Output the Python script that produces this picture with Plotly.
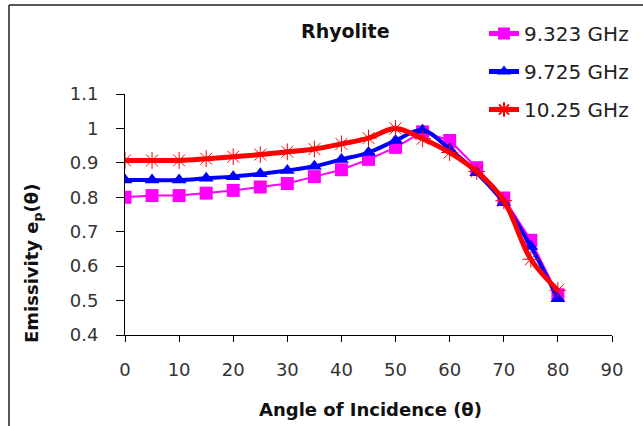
import plotly.graph_objects as go

angles = [0, 5, 10, 15, 20, 25, 30, 35, 40, 45, 50, 55, 60, 65, 70, 75, 80]
e_9323 = [0.80, 0.805, 0.805, 0.812, 0.82, 0.83, 0.84, 0.86, 0.88, 0.91, 0.945, 0.99, 0.965, 0.886, 0.798, 0.675, 0.517]
e_9725 = [0.85, 0.85, 0.85, 0.855, 0.86, 0.868, 0.878, 0.89, 0.91, 0.93, 0.965, 0.995, 0.94, 0.871, 0.784, 0.657, 0.505]
e_1025 = [0.907, 0.907, 0.907, 0.912, 0.918, 0.924, 0.932, 0.94, 0.955, 0.972, 1.0, 0.97, 0.93, 0.875, 0.79, 0.62, 0.53]

names = ["9.323 GHz", "9.725 GHz", "10.25 GHz"]
x_ticks = list(range(0, 100, 10))
y_ticks = [0.4, 0.5, 0.6, 0.7, 0.8, 0.9, 1.0, 1.1]
y_tick_text = ["0.4", "0.5", "0.6", "0.7", "0.8", "0.9", "1", "1.1"]

FONT = "DejaVu Sans, Liberation Sans, Arial, sans-serif"

fig = go.Figure()
fig.add_trace(go.Scatter(
    x=angles, y=e_9323, name=names[0], mode="lines+markers", legendgroup="a",
    line=dict(color="#FF00FF", width=2),
    marker=dict(symbol="square", size=13, color="#FF00FF"),
))
fig.add_trace(go.Scatter(
    x=angles, y=e_9725, name=names[1], mode="lines+markers", legendgroup="b",
    line=dict(color="#0000FF", width=4, shape="spline"),
    marker=dict(symbol="triangle-up", size=13, color="#0000FF"),
))
fig.add_trace(go.Scatter(
    x=angles, y=e_1025, name=names[2], mode="lines+markers", legendgroup="c",
    line=dict(color="#FF0000", width=5, shape="spline"),
    marker=dict(symbol="asterisk-open", size=14, color="#FF0000",
                line=dict(color="#FF0000", width=1)),
))

# Page body margin removed via post_script; plot area on screen: x 125..612, y 94..335
W, H = 643, 426
SX0, SX1, SY0, SY1 = 125, 612, 94, 335
L, T = SX0, SY0
pw, ph = SX1 - SX0, SY1 - SY0
R, B = W - L - pw, H - T - ph

def px(x):
    return (x - SX0) / pw

def py(y):
    return (SY1 - y) / ph

fig.update_layout(
    width=W, height=H,
    margin=dict(l=L, r=R, t=T, b=B, autoexpand=False),
    paper_bgcolor="white", plot_bgcolor="white",
    font=dict(family=FONT, size=18, color="#222"),
    showlegend=True,
    legend=dict(
        x=px(484), y=py(14), xanchor="left", yanchor="top",
        font=dict(family=FONT, size=20, color="#222"),
        tracegroupgap=9, bgcolor="rgba(0,0,0,0)",
        itemsizing="constant",
    ),
    xaxis=dict(
        range=[0, 90], tickvals=x_ticks, showgrid=False, zeroline=False,
        showline=True, linecolor="black", linewidth=1,
        ticks="outside", ticklen=6, tickcolor="black",
        ticklabelstandoff=12, tickfont=dict(family=FONT, size=18, color="#333"),
    ),
    yaxis=dict(
        range=[0.4, 1.1], tickvals=y_ticks, ticktext=y_tick_text,
        showgrid=False, zeroline=False,
        showline=True, linecolor="black", linewidth=1,
        ticks="outside", ticklen=8, tickcolor="black",
        ticklabelstandoff=14, tickfont=dict(family=FONT, size=18, color="#333"),
    ),
    annotations=[
        dict(text="<b>Rhyolite</b>", x=px(345), y=py(31), xref="paper", yref="paper",
             xanchor="center", yanchor="middle",
             showarrow=False, font=dict(family=FONT, size=19, color="#111")),
        dict(text="<b>Angle of Incidence (θ)</b>", x=px(370), y=py(409), xref="paper", yref="paper",
             xanchor="center", yanchor="middle",
             showarrow=False, font=dict(family=FONT, size=18, color="#111")),
        dict(text="<b>Emissivity e<sub>p</sub>(θ)</b>", x=px(33), y=py(264), xref="paper", yref="paper",
             xanchor="center", yanchor="middle",
             showarrow=False, textangle=-90, font=dict(family=FONT, size=18, color="#111")),
    ],
    shapes=[
        dict(type="line", xref="paper", yref="paper", x0=px(9), x1=px(660), y0=py(5), y1=py(5),
             line=dict(color="#222", width=1.5)),
        dict(type="line", xref="paper", yref="paper", x0=px(9), x1=px(9), y0=py(5), y1=py(440),
             line=dict(color="#222", width=1.5)),
    ],
)

fig.write_html("out.html", config={"displayModeBar": False},
               post_script="document.body.style.margin='0';")
